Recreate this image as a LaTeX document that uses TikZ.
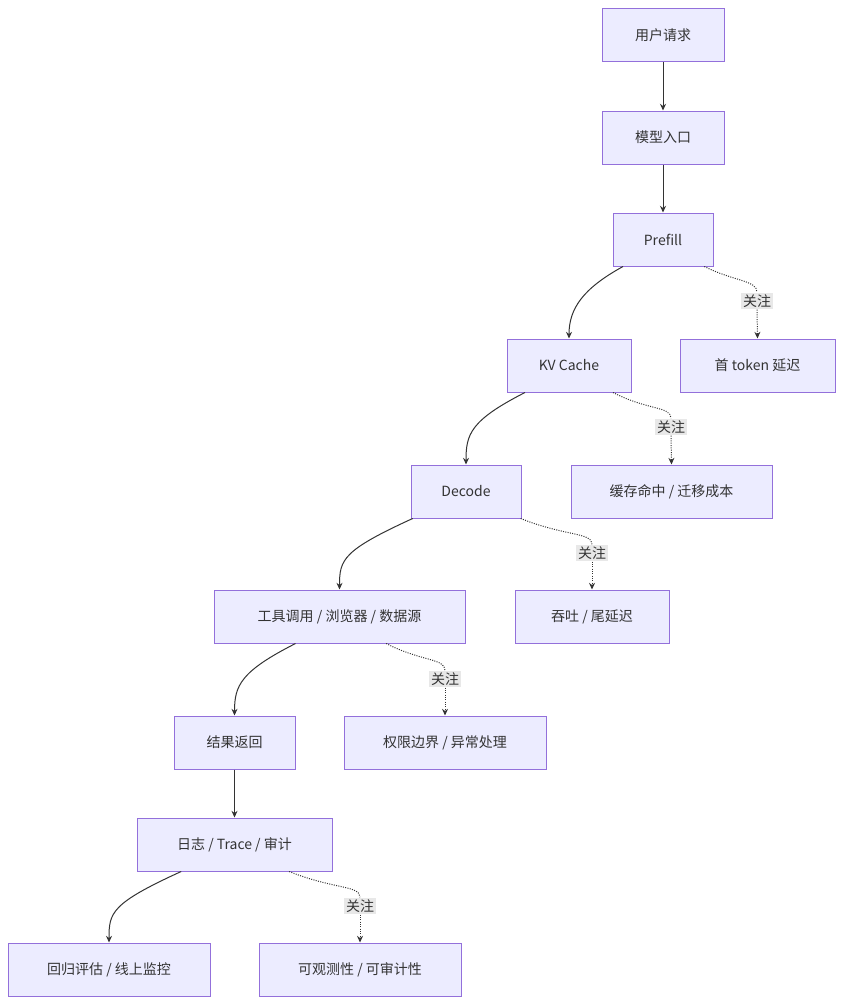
\documentclass[tikz,border=0pt]{standalone}
\usepackage{fontspec}
\setmainfont{Noto Sans CJK SC}
\usetikzlibrary{arrows.meta}
\definecolor{nfill}{HTML}{ECECFF}
\definecolor{nbord}{HTML}{9370DB}
\definecolor{ink}{HTML}{333333}
\definecolor{lbl}{HTML}{E8E8E8}
\begin{document}
\begin{tikzpicture}[x=0.75pt,y=-0.75pt,
  box/.style={draw=nbord,fill=nfill,line width=0.75pt,minimum height=39.75pt,inner sep=0pt,text=ink,font=\fontsize{10.5}{12}\selectfont},
  lab/.style={fill=lbl,inner sep=1.5pt,text=ink,font=\fontsize{10.5}{12}\selectfont},
  flow/.style={draw=ink,line width=0.75pt,-{Stealth[length=5pt,width=4.5pt]}},
  note/.style={draw=ink,line width=0.75pt,densely dotted},
  noteA/.style={note,-{Stealth[length=5pt,width=4.5pt]}}]
\useasboundingbox (0,0) rectangle (843,1006);
\node[box,minimum width=91.5pt] (a) at (663,35.5) {用户请求};
\node[box,minimum width=91.5pt] (b) at (663,137.5) {模型入口};
\node[box,minimum width=75pt] (c) at (663,239.5) {Prefill};
\node[box,minimum width=93pt] (d) at (569,365.5) {KV Cache};
\node[box,minimum width=116.25pt] (e) at (757.5,365.5) {首 token 延迟};
\node[box,minimum width=82.5pt] (f) at (466,491.5) {Decode};
\node[box,minimum width=150.75pt] (g) at (671.5,491.5) {缓存命中 / 迁移成本};
\node[box,minimum width=188.25pt] (h) at (339.5,616.5) {工具调用 / 浏览器 / 数据源};
\node[box,minimum width=115.5pt] (i) at (592,616.5) {吞吐 / 尾延迟};
\node[box,minimum width=90.75pt] (j) at (234.5,742.5) {结果返回};
\node[box,minimum width=151.5pt] (k) at (445,742.5) {权限边界 / 异常处理};
\node[box,minimum width=146.25pt] (l) at (234.5,844.5) {日志 / Trace / 审计};
\node[box,minimum width=151.5pt] (m) at (109,969.5) {回归评估 / 线上监控};
\node[box,minimum width=151.5pt] (n) at (360,969.5) {可观测性 / 可审计性};
\node[lab] (l1) at (757,301) {关注};
\node[lab] (l2) at (671,427) {关注};
\node[lab] (l3) at (592,553) {关注};
\node[lab] (l4) at (445,679) {关注};
\node[lab] (l5) at (360,906) {关注};
\draw[flow] (a) -- (b);
\draw[flow] (b) -- (c);
\draw[flow] (j) -- (l);
\draw[flow] ([xshift=-30pt]c.south) .. controls +(-40,22) and +(0,-30) .. (d.north);
\draw[flow] ([xshift=-33pt]d.south) .. controls +(-55,28) and +(0,-30) .. (f.north);
\draw[flow] ([xshift=-40pt]f.south) .. controls +(-70,32) and +(0,-30) .. (h.north);
\draw[flow] ([xshift=-33pt]h.south) .. controls +(-55,28) and +(0,-30) .. (j.north);
\draw[flow] ([xshift=-40pt]l.south) .. controls +(-70,32) and +(0,-30) .. (m.north);
\draw[note] ([xshift=31pt]c.south) .. controls +(30,15) and +(0,-12) .. (l1.north);
\draw[noteA] (l1.south) -- (e.north);
\draw[note] ([xshift=33pt]d.south) .. controls +(35,18) and +(0,-12) .. (l2.north);
\draw[noteA] (l2.south) -- (g.north);
\draw[note] ([xshift=41pt]f.south) .. controls +(45,18) and +(0,-12) .. (l3.north);
\draw[noteA] (l3.south) -- (i.north);
\draw[note] ([xshift=35pt]h.south) .. controls +(35,18) and +(0,-12) .. (l4.north);
\draw[noteA] (l4.south) -- (k.north);
\draw[note] ([xshift=41pt]l.south) .. controls +(45,18) and +(0,-12) .. (l5.north);
\draw[noteA] (l5.south) -- (n.north);
\end{tikzpicture}
\end{document}
